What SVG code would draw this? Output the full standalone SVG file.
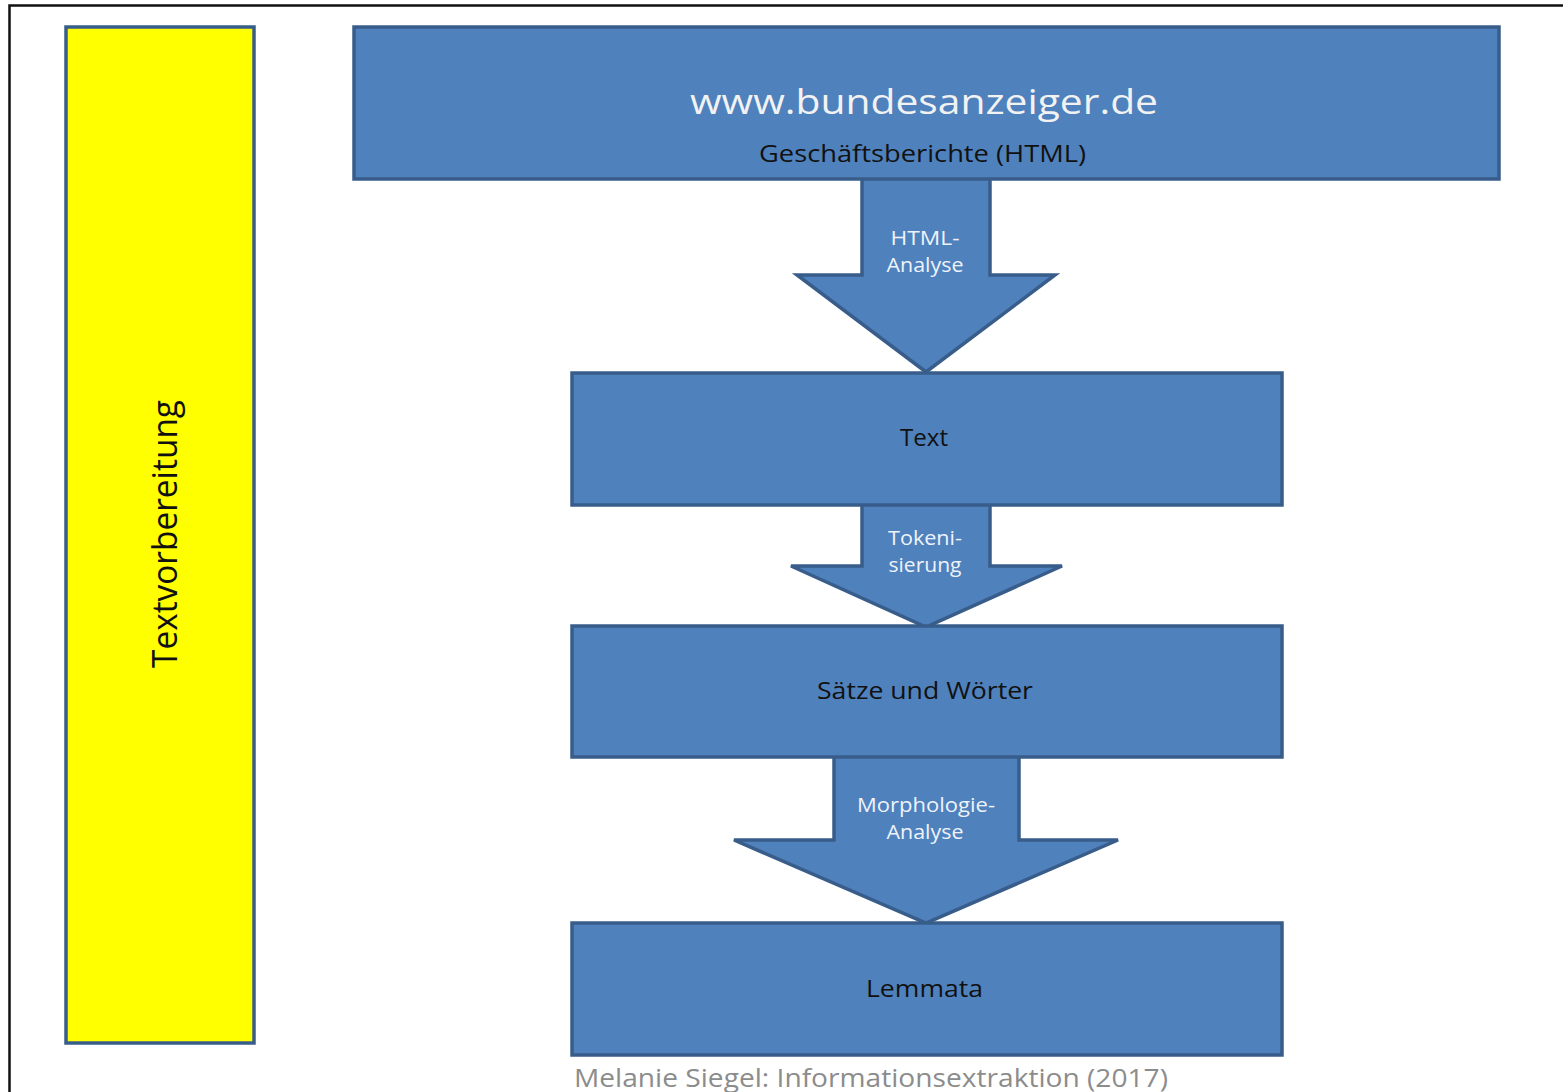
<svg xmlns="http://www.w3.org/2000/svg" width="1563" height="1092" viewBox="0 0 1563 1092">
<style>
.box{fill:#4F81BD;stroke:#385D8A;stroke-width:3.5}
.arr{fill:#4F81BD;stroke:#385D8A;stroke-width:3.5;stroke-linejoin:miter}
.t{font-family:"Open Sans","Liberation Sans",sans-serif;text-anchor:middle}
.dark{fill:#111}
.light{fill:#EEF3FA;font-size:20px}
</style>
<rect x="0" y="0" width="1563" height="1092" fill="#fff"/>
<path d="M9.5 1092 V5.5 H1563" fill="none" stroke="#111" stroke-width="2.5"/>
<g id="textvorbereitung">
<rect x="66" y="27" width="188" height="1016" fill="#FFFF00" stroke="#385D8A" stroke-width="3.5"/>
<text class="t dark" font-size="35" textLength="268" lengthAdjust="spacingAndGlyphs" transform="translate(177 534) rotate(-90)">Textvorbereitung</text>
</g>
<g id="connectors">
<g id="arrow-html">
<path class="arr" d="M862 179 V275 H797 L926 372 L1055 275 H990 V179"/>
<text class="t light" x="925" y="245" textLength="69" lengthAdjust="spacingAndGlyphs">HTML-</text>
<text class="t light" x="925" y="272" textLength="77" lengthAdjust="spacingAndGlyphs">Analyse</text>
</g>
<g id="arrow-token">
<path class="arr" d="M862 505 V566 H791 L926 627 L1062 566 H990 V505"/>
<text class="t light" x="925" y="545" textLength="74" lengthAdjust="spacingAndGlyphs">Tokeni-</text>
<text class="t light" x="925" y="572" textLength="73" lengthAdjust="spacingAndGlyphs">sierung</text>
</g>
<g id="arrow-morph">
<path class="arr" d="M834 757 V840 H734 L926 923 L1118 840 H1019 V757"/>
<text class="t light" x="926" y="812" textLength="138" lengthAdjust="spacingAndGlyphs">Morphologie-</text>
<text class="t light" x="925" y="839" textLength="77" lengthAdjust="spacingAndGlyphs">Analyse</text>
</g>
</g>
<g id="bundesanzeiger">
<rect class="box" x="354" y="27" width="1145" height="152"/>
<text class="t" x="924" y="114" font-size="35" fill="#F2F2F2" textLength="468" lengthAdjust="spacingAndGlyphs">www.bundesanzeiger.de</text>
<text class="t dark" x="922.5" y="162" font-size="23" textLength="327" lengthAdjust="spacingAndGlyphs">Geschäftsberichte (HTML)</text>
</g>
<g id="text">
<rect class="box" x="572" y="373" width="710" height="132"/>
<text class="t dark" x="924" y="446" font-size="23" textLength="48" lengthAdjust="spacingAndGlyphs">Text</text>
</g>
<g id="saetze">
<rect class="box" x="572" y="626" width="710" height="131"/>
<text class="t dark" x="925" y="699" font-size="23" textLength="216" lengthAdjust="spacingAndGlyphs">Sätze und Wörter</text>
</g>
<g id="lemmata">
<rect class="box" x="572" y="923" width="710" height="132"/>
<text class="t dark" x="924.5" y="997" font-size="23" textLength="117" lengthAdjust="spacingAndGlyphs">Lemmata</text>
</g>
<text x="574" y="1087" font-family="'Open Sans','Liberation Sans',sans-serif" font-size="26" fill="#8C8C8C" textLength="594" lengthAdjust="spacingAndGlyphs">Melanie Siegel: Informationsextraktion (2017)</text>
</svg>
